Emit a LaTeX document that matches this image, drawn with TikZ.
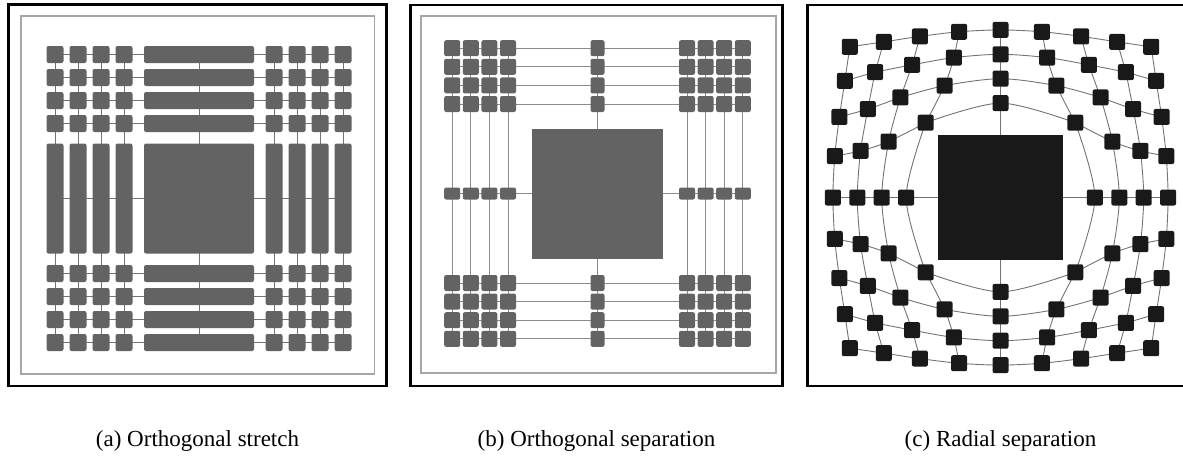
\documentclass[tikz,border=0pt]{standalone}
\usepackage{fontspec}
\setmainfont{Liberation Serif}
\usetikzlibrary{calc}

\tikzset{
    cell/.style={fill=black!61, rounded corners=2pt, inner sep=0pt, outer sep=0pt},
    darkcell/.style={fill=black!90, rounded corners=2pt, inner sep=0pt, outer sep=0pt, minimum size=16pt},
    link/.style={draw=black!55, line width=0.9pt},
    outerframe/.style={draw=black, line width=2.6pt},
    innerframe/.style={draw=black!35, line width=1.6pt},
    captext/.style={anchor=base, inner sep=0pt, font=\fontsize{23}{27}\selectfont}
}

% smooth curve through the (c) coordinates of row #3, columns #1 to #2
\newcommand\rowcurve[3]{%
    \gdef\pts{}%
    \foreach \t in {#1,...,#2} {\xdef\pts{\pts (c\t#3)}}%
    \edef\tmp{\noexpand\draw[link] plot[smooth] coordinates {\pts};}\tmp}
% same for column #1, rows #2 to #3
\newcommand\colcurve[3]{%
    \gdef\pts{}%
    \foreach \t in {#2,...,#3} {\xdef\pts{\pts (c#1\t)}}%
    \edef\tmp{\noexpand\draw[link] plot[smooth] coordinates {\pts};}\tmp}

\begin{document}
\begin{tikzpicture}[x=1pt, y=-1pt]
    \useasboundingbox (0,0) rectangle (1183,456);
    % frames
    \draw[outerframe] (8.5,4.7) rectangle (386.5,386);
    \draw[innerframe] (20.7,16) rectangle (374.3,373.7);
    \draw[outerframe] (410.3,5) rectangle (782.7,386);
    \draw[innerframe] (421,16) rectangle (776,373);
    \draw[outerframe] (807.3,5) rectangle (1190,386);

    % (a) orthogonal stretch
    \foreach \x in {0,...,8} {
        \foreach \y in {0,...,8} {
            \pgfmathsetmacro\px{199+sign(\x-4)*(52+23*abs(\x-4))}
            \pgfmathsetmacro\py{198.5+sign(\y-4)*(52+23*abs(\y-4))}
            \coordinate (a\x\y) at (\px,\py);
        }
    }
    \foreach \k in {0,...,8} {
        \draw[link] (a0\k) -- (a8\k);
        \draw[link] (a\k0) -- (a\k8);
    }
    \foreach \x in {0,...,8} {
        \foreach \y in {0,...,8} {
            \pgfmathsetmacro\w{\x==4 ? 110 : 17}
            \pgfmathsetmacro\h{\y==4 ? 110 : 17}
            \node[cell, minimum width=\w pt, minimum height=\h pt] (na\x\y) at (a\x\y) {};
        }
    }

    % (b) orthogonal separation
    \foreach \x in {0,...,8} {
        \foreach \y in {0,...,8} {
            \pgfmathsetmacro\px{597.5+sign(\x-4)*(70.9+18.6*abs(\x-4))}
            \pgfmathsetmacro\py{193.5+sign(\y-4)*(70.9+18.6*abs(\y-4))}
            \coordinate (b\x\y) at (\px,\py);
        }
    }
    \foreach \k in {0,...,8} {
        \draw[link, draw=black!45] (b0\k) -- (b8\k);
        \draw[link, draw=black!45] (b\k0) -- (b\k8);
    }
    \foreach \x in {0,...,8} {
        \foreach \y in {0,...,8} {
            \ifnum\x\y=44 \else
                \pgfmathsetmacro\w{\x==4 ? 14 : 16}
                \pgfmathsetmacro\h{\y==4 ? 12 : 16}
                \node[cell, minimum width=\w pt, minimum height=\h pt] (nb\x\y) at (b\x\y) {};
            \fi
        }
    }
    \node[cell, rounded corners=0pt, minimum width=131pt, minimum height=130pt] (nb44) at (b44) {};

    % (c) radial separation
    \foreach \x in {0,...,8} {
        \foreach \y in {0,...,8} {
            \pgfmathsetmacro\r{veclen(\x-4,\y-4)}
            \pgfmathsetmacro\q{min(abs(\x-4),abs(\y-4))/max(abs(\x-4),abs(\y-4),1)}
            \pgfmathsetmacro\f{70/max(\r,0.1)+24.4+0.9*\q*\q}
            \coordinate (c\x\y) at ({1000.5+(\x-4)*\f},{197.5+(\y-4)*\f});
        }
    }
    \foreach \k in {0,...,8} {
        \pgfmathtruncatemacro\m{abs(\k-4)}
        \pgfmathtruncatemacro\lo{4-\m}
        \pgfmathtruncatemacro\hi{4+\m}
        \ifnum\m=0
            \draw[link] (c0\k) -- (c8\k);
            \draw[link] (c\k0) -- (c\k8);
        \else
            \rowcurve{\lo}{\hi}{\k}
            \colcurve{\k}{\lo}{\hi}
            \ifnum\m<4
                \rowcurve{0}{\lo}{\k}
                \rowcurve{\hi}{8}{\k}
                \colcurve{\k}{0}{\lo}
                \colcurve{\k}{\hi}{8}
            \fi
        \fi
    }
    \foreach \x in {0,...,8} {
        \foreach \y in {0,...,8} {
            \ifnum\x\y=44 \else
                \node[darkcell] (nc\x\y) at (c\x\y) {};
            \fi
        }
    }
    \node[darkcell, rounded corners=0pt, minimum size=125pt] (nc44) at (c44) {};

    % captions
    \node[captext] (capa) at (197.5,446) {(a) Orthogonal stretch};
    \node[captext] (capb) at (596.5,446) {(b) Orthogonal separation};
    \node[captext] (capc) at (1000.5,446) {(c) Radial separation};
\end{tikzpicture}
\end{document}
